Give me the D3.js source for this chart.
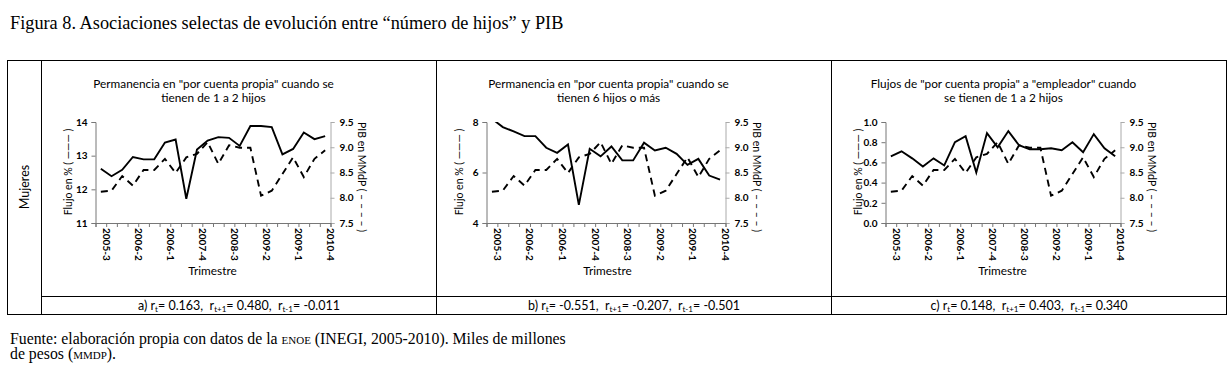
<!DOCTYPE html>
<html>
<head>
<meta charset="utf-8">
<script src="https://cdn.jsdelivr.net/npm/d3@7"></script>
<style>
  body { margin: 0; background: #fff; }
  .serif { font-family: "Liberation Serif", "Times New Roman", serif; }
  .sans { font-family: Lato, "Open Sans", sans-serif; }
</style>
</head>
<body>
<div id="chart"></div>
<script>
const width = 1229;
const height = 381;

// trimestres 2005-3 .. 2010-4
const categories = ['2005-3','2005-4','2006-1','2006-2','2006-3','2006-4','2007-1','2007-2','2007-3','2007-4',
  '2008-1','2008-2','2008-3','2008-4','2009-1','2009-2','2009-3','2009-4','2010-1','2010-2','2010-3','2010-4'];
// etiquetas tal como aparecen en el eje (cada 3 trimestres)
const tickLabels = ['2005-3','2006-2','2006-1','2007-4','2008-3','2009-2','2009-1','2010-4'];

// PIB en MMdP (linea discontinua, eje derecho)
const pib = [8.12,8.14,8.43,8.24,8.55,8.55,8.77,8.49,8.80,8.87,9.10,8.67,9.04,8.99,8.99,8.04,8.14,8.47,8.80,8.41,8.77,8.94];

// Flujo en % (linea continua, eje izquierdo)
const flujoA = [12.61,12.39,12.58,12.96,12.89,12.89,13.39,13.48,11.72,13.18,13.45,13.55,13.53,13.29,13.88,13.88,13.85,13.04,13.20,13.69,13.49,13.58];
const flujoB = [8.13,7.80,7.63,7.44,7.44,6.98,6.78,7.11,4.72,6.94,6.64,7.03,6.48,6.48,7.18,6.87,6.98,6.74,6.30,6.54,5.88,5.72];
const flujoC = [0.66,0.71,0.64,0.56,0.64,0.57,0.80,0.86,0.50,0.89,0.75,0.91,0.77,0.73,0.73,0.74,0.72,0.80,0.70,0.88,0.74,0.66];

const titlesA = ['Permanencia en "por cuenta propia" cuando se', 'tienen de 1 a 2 hijos'];
const titlesB = ['Permanencia en "por cuenta propia" cuando se', 'tienen 6 hijos o más'];
const titlesC = ['Flujos de "por cuenta propia" a "empleador" cuando', 'se tienen de 1 a 2 hijos'];

const ticksA = [11, 12, 13, 14];
const ticksB = [4, 6, 8];
const ticksC = [0, 0.2, 0.4, 0.6, 0.8, 1.0];
const ticksPib = [7.5, 8.0, 8.5, 9.0, 9.5];

// correlaciones: [r_t, r_t+1, r_t-1]
const corrA = ['0.163', '0.480', '-0.011'];
const corrB = ['-0.551', '-0.207', '-0.501'];
const corrC = ['0.148', '0.403', '0.340'];

const svg = d3.select('#chart').append('svg')
  .attr('width', width)
  .attr('height', height);

svg.append('rect').attr('width', width).attr('height', height).attr('fill', '#fff');

// Titulo de la figura
svg.append('text')
  .attr('class', 'serif')
  .attr('x', 10)
  .attr('y', 29)
  .attr('font-size', 18.3)
  .text('Figura 8. Asociaciones selectas de evolución entre “número de hijos” y PIB');

// Tabla
const colX = [41.5, 436.5, 831.5, 1226.5];
const tableTop = 60.5, rowDiv = 296.5, tableBottom = 314.5;
const grid = svg.append('g').attr('stroke', '#000').attr('stroke-width', 1).attr('fill', 'none');
grid.append('rect').attr('x', 7.5).attr('y', tableTop).attr('width', 1219).attr('height', tableBottom - tableTop);
colX.slice(0, 3).forEach(x => {
  grid.append('line').attr('x1', x).attr('x2', x).attr('y1', tableTop).attr('y2', tableBottom);
});
grid.append('line').attr('x1', colX[0]).attr('x2', colX[3]).attr('y1', rowDiv).attr('y2', rowDiv);

svg.append('text')
  .attr('class', 'sans')
  .attr('font-size', 12.5)
  .attr('text-anchor', 'middle')
  .attr('transform', `translate(29, 187) rotate(-90)`)
  .text('Mujeres');

const panels = [
  { data: flujoA, titles: titlesA, domain: [11, 14], ticks: ticksA, fmt: d3.format('d'), left: 54, corr: corrA, letter: 'a)' },
  { data: flujoB, titles: titlesB, domain: [4, 8], ticks: ticksB, fmt: d3.format('d'), left: 50, corr: corrB, letter: 'b)' },
  { data: flujoC, titles: titlesC, domain: [0, 1], ticks: ticksC, fmt: d3.format('.1f'), left: 54, corr: corrC, letter: 'c)' }
];

panels.forEach((p, i) => drawPanel(p, i));

function drawPanel(p, i) {
  const x0 = colX[i];
  const g = svg.append('g').attr('transform', `translate(${x0}, 0)`);
  const plotL = p.left, plotR = 289, plotT = 122, plotB = 223;

  const x = d3.scaleBand().domain(categories).range([plotL, plotR]);
  const xIdx = d3.scaleLinear().domain([0, categories.length]).range([plotL, plotR]);
  const yL = d3.scaleLinear().domain(p.domain).range([plotB, plotT]);
  const yR = d3.scaleLinear().domain([7.5, 9.5]).range([plotB, plotT]);
  const cx = c => x(c) + x.bandwidth() / 2;

  // titulo del grafico
  p.titles.forEach((t, k) => {
    g.append('text')
      .attr('class', 'sans')
      .attr('font-size', 11.8)
      .attr('text-anchor', 'middle')
      .attr('x', 172)
      .attr('y', 88 + k * 14)
      .text(t);
  });

  // eje izquierdo
  const axL = g.append('g')
    .attr('transform', `translate(${plotL}, 0)`)
    .call(d3.axisLeft(yL).tickValues(p.ticks).tickSize(4).tickPadding(4).tickFormat(p.fmt));
  axL.select('.domain').attr('stroke', '#777');
  axL.selectAll('.tick line').attr('stroke', '#777');
  axL.selectAll('text').attr('class', 'sans').attr('font-size', 10).attr('font-weight', 'bold');

  // eje derecho
  const axR = g.append('g')
    .attr('transform', `translate(${plotR}, 0)`)
    .call(d3.axisRight(yR).tickValues(ticksPib).tickSize(4).tickPadding(5).tickFormat(d3.format('.1f')));
  axR.select('.domain').attr('stroke', '#aaa');
  axR.selectAll('.tick line').attr('stroke', '#aaa');
  axR.selectAll('text').attr('class', 'sans').attr('font-size', 10).attr('font-weight', 'bold');

  // eje inferior: marcas entre categorias
  const axB = g.append('g')
    .attr('transform', `translate(0, ${plotB})`)
    .call(d3.axisBottom(xIdx).tickValues(d3.range(categories.length + 1)).tickSize(4).tickFormat(''));
  axB.select('.domain').attr('stroke', '#777');
  axB.selectAll('.tick line').attr('stroke', '#777');

  // etiquetas cada 3 trimestres
  const labelCats = categories.filter((c, k) => k % 3 === 0);
  const axLab = g.append('g')
    .attr('transform', `translate(${x.bandwidth() / 2}, ${plotB})`)
    .call(d3.axisBottom(x).tickValues(labelCats).tickSize(0).tickFormat((c, k) => tickLabels[k]));
  axLab.select('.domain').remove();
  axLab.selectAll('text')
    .attr('class', 'sans')
    .attr('font-size', 10)
    .attr('font-weight', 'bold')
    .attr('text-anchor', 'start')
    .attr('x', 5)
    .attr('y', 0)
    .attr('dy', '0.35em')
    .attr('transform', 'rotate(90)');

  // titulos de ejes
  g.append('text')
    .attr('class', 'sans')
    .attr('font-size', 11.8)
    .attr('text-anchor', 'middle')
    .attr('x', 171)
    .attr('y', 275)
    .text('Trimestre');

  g.append('text')
    .attr('class', 'sans')
    .attr('font-size', 10.5)
    .attr('text-anchor', 'middle')
    .attr('transform', `translate(${p.left - 24}, 172) rotate(-90)`)
    .text('Flujo en % ( ——— )');

  g.append('text')
    .attr('class', 'sans')
    .attr('font-size', 10.5)
    .attr('text-anchor', 'middle')
    .attr('transform', `translate(316, 177) rotate(90)`)
    .text('PIB  en  MMdP ( – – – – )');

  // lineas
  const clipId = `clip${i}`;
  g.append('clipPath').attr('id', clipId)
    .append('rect').attr('x', plotL).attr('y', plotT).attr('width', plotR - plotL).attr('height', plotB - plotT);
  const lines = g.append('g').attr('clip-path', `url(#${clipId})`);

  lines.append('path')
    .datum(pib)
    .attr('fill', 'none')
    .attr('stroke', '#000')
    .attr('stroke-width', 1.9)
    .attr('stroke-dasharray', '7,5')
    .attr('d', d3.line().x((d, k) => cx(categories[k])).y(d => yR(d)));

  lines.append('path')
    .datum(p.data)
    .attr('fill', 'none')
    .attr('stroke', '#000')
    .attr('stroke-width', 1.9)
    .attr('d', d3.line().x((d, k) => cx(categories[k])).y(d => yL(d)));

  // fila de correlaciones
  const cap = svg.append('text')
    .attr('class', 'sans')
    .attr('font-size', 12.5)
    .attr('text-anchor', 'middle')
    .attr('x', (colX[i] + colX[i + 1]) / 2)
    .attr('y', 310);
  const subs = ['t', 't+1', 't-1'];
  cap.append('tspan').text(p.letter + ' ');
  p.corr.forEach((v, k) => {
    cap.append('tspan').text('r');
    cap.append('tspan').attr('font-size', 8).attr('dy', 2).text(subs[k]);
    cap.append('tspan').attr('dy', -2).text('= ' + v + (k < 2 ? ',\u00a0 ' : ''));
  });
}

// Fuente
const src = svg.append('text').attr('class', 'serif').attr('font-size', 15.8).attr('x', 10).attr('y', 344);
src.append('tspan').text('Fuente: elaboración propia con datos de la ');
src.append('tspan').attr('font-size', 11).text('ENOE');
src.append('tspan').text(' (INEGI, 2005-2010). Miles de millones');
const src2 = svg.append('text').attr('class', 'serif').attr('font-size', 15.8).attr('x', 10).attr('y', 359);
src2.append('tspan').text('de pesos (');
src2.append('tspan').attr('font-size', 11).text('MMDP');
src2.append('tspan').text(').');
</script>
</body>
</html>
